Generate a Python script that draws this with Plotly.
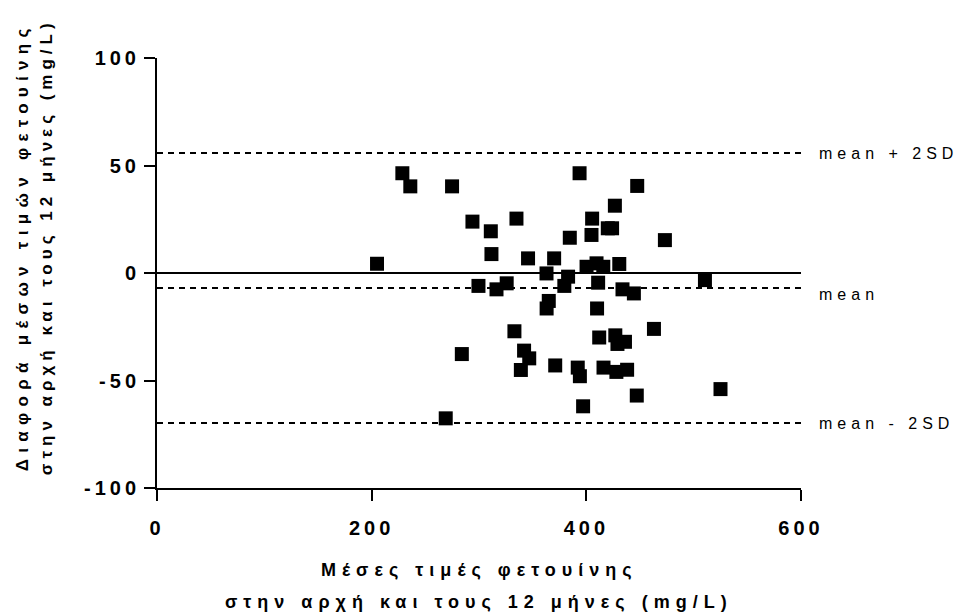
import plotly.graph_objects as go

# Bland-Altman data: mean of two measurements (x) vs difference (y)
mean_vals = [205, 228.6, 236, 269, 274.9, 284, 293.9, 299.5, 311, 311.6, 316.3, 325.8,
             333, 334.9, 339, 342, 345.7, 346.8, 362.9, 363, 365, 370, 371, 379.5,
             383, 384.6, 392, 393.7, 394, 397, 400.2, 404.8, 405.4, 409.5, 410, 411,
             412, 415.8, 416, 420, 424, 426.6, 427, 429, 428, 430.7, 433.7, 436,
             438, 444.3, 447.4, 447, 463, 473.2, 510.5, 525]
diff_vals = [4.3, 46.4, 40.3, -67.6, 40.3, -37.7, 23.9, -6.0, 19.4, 8.8, -7.6, -4.8,
             -27.1, 25.3, -45.1, -36.1, 6.8, -39.7, -0.2, -16.5, -13, 6.8, -43, -6.0,
             -1.7, 16.4, -44, 46.4, -48, -62, 2.9, 17.7, 25.3, 4.5, -16.5, -4.5,
             -30, 2.9, -44, 20.8, 20.8, 31.3, -29, -33, -46, 4.2, -7.6, -32,
             -45, -9.5, 40.5, -57, -26, 15.3, -3.3, -54]

bias = -7.0
upper_loa = 55.8
lower_loa = -69.8
line_labels = ["mean + 2SD", "mean", "mean - 2SD"]
line_values = [upper_loa, bias, lower_loa]

x_ticks = [0, 200, 400, 600]
y_ticks = [-100, -50, 0, 50, 100]

x_title = ["Μέσες τιμές φετουίνης", "στην αρχή και τους 12 μήνες (mg/L)"]
y_title = ["Διαφορά μέσων τιμών φετουίνης", "στην αρχή και τους 12 μήνες (mg/L)"]

FONT = "Liberation Sans, Arial, sans-serif"


def sp(text, px):
    return '<span style="letter-spacing:%spx">%s</span>' % (px, text)


fig = go.Figure()

fig.add_trace(go.Scatter(
    x=mean_vals, y=diff_vals, mode="markers",
    marker=dict(symbol="square", size=14, color="black", line=dict(width=0)),
    showlegend=False, hoverinfo="skip"))

# zero line
fig.add_trace(go.Scatter(x=[0, 600], y=[0, 0], mode="lines",
                         line=dict(color="black", width=2), showlegend=False,
                         hoverinfo="skip"))
# mean and limits
for v in line_values:
    fig.add_trace(go.Scatter(x=[0, 600], y=[v, v], mode="lines",
                             line=dict(color="black", width=2, dash="6px,5px"),
                             showlegend=False, hoverinfo="skip"))

tickfont = dict(family=FONT, size=20, color="black", weight="bold")

fig.update_layout(
    width=979, height=616,
    margin=dict(l=157, r=178, t=58, b=128),
    paper_bgcolor="white", plot_bgcolor="white",
    font=dict(family=FONT, color="black"),
    xaxis=dict(range=[0, 600], tickvals=x_ticks,
               ticktext=[sp(str(t), 4) for t in x_ticks],
               showgrid=False, zeroline=False, showline=True, linecolor="black",
               linewidth=2, ticks="outside", ticklen=11, tickwidth=2,
               tickcolor="black", tickfont=tickfont, ticklabelstandoff=10),
    yaxis=dict(range=[-100, 100], tickvals=y_ticks,
               ticktext=[sp(str(t), 4) for t in y_ticks],
               showgrid=False, zeroline=False, showline=True, linecolor="black",
               linewidth=2, ticks="outside", ticklen=11, tickwidth=2,
               tickcolor="black", tickfont=tickfont),
)

# x-axis title lines
for i, t in enumerate(x_title):
    fig.add_annotation(text=sp(t, 6), xref="paper", yref="paper", x=0.5, y=0,
                       xanchor="center", yanchor="middle", yshift=-82 - 32 * i,
                       showarrow=False,
                       font=dict(family=FONT, size=18, color="black", weight="bold"))

# y-axis title lines (rotated)
y_spacing = [6.3, 5.0]
for i, t in enumerate(y_title):
    fig.add_annotation(text=sp(t, y_spacing[i]), xref="paper", yref="paper",
                       x=0, y=0.56,
                       xanchor="center", yanchor="middle", xshift=-135 + 24 * i,
                       textangle=-90, showarrow=False,
                       font=dict(family=FONT, size=17, color="black", weight="bold"))

# right-side line labels
for lab, v in zip(line_labels, line_values):
    fig.add_annotation(text=sp(lab, 5), xref="paper", yref="y", x=1, y=v,
                       xanchor="left", yanchor="middle", xshift=16,
                       yshift=(-6 if lab == "mean" else 0),
                       showarrow=False,
                       font=dict(family=FONT, size=16, color="black"))

fig.write_html("out.html", config={"displayModeBar": False},
               post_script="document.body.style.margin='0px';")
